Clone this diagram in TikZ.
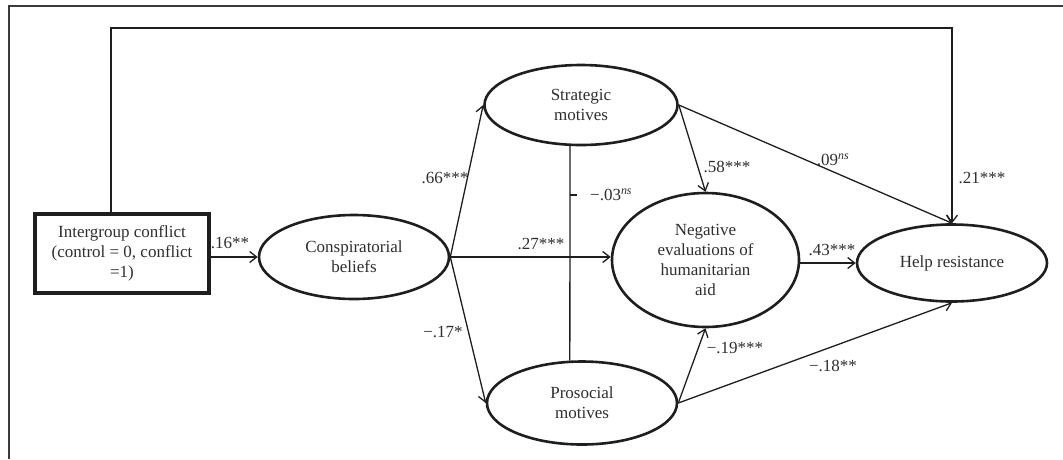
\documentclass[tikz,border=0pt]{standalone}
\usepackage{fontspec}
\setmainfont{Liberation Serif}
\usetikzlibrary{shapes.geometric,arrows.meta}
\definecolor{ink}{HTML}{1E1E1E}
\definecolor{txt}{HTML}{2E2E2E}
\definecolor{frame}{HTML}{3A3A3A}
\tikzset{
  every node/.style={font=\fontsize{17}{20}\selectfont, text=txt},
  oval/.style={ellipse, draw=ink, line width=2.6pt, inner sep=0pt, align=center},
  varbox/.style={rectangle, draw=ink, line width=3.2pt, inner sep=0pt, align=center},
  arr/.style={draw=ink, line width=1.3pt, -{Straight Barb[length=7pt,width=11pt,line width=1.3pt]}},
  plain/.style={draw=ink, line width=1.3pt},
  lab/.style={inner sep=1pt},
  framestyle/.style={draw=frame, line width=1.8pt}
}
\newcommand{\nsup}{\textsuperscript{\itshape ns}}
\begin{document}
\begin{tikzpicture}[x=1pt,y=-1pt]
\useasboundingbox (0,0) rectangle (1063,459);
% frame
\coordinate (fr0) at (9,459);
\coordinate (fr1) at (9,6);
\coordinate (fr2) at (1063,6);
\draw[framestyle] (fr0) -- (fr1) -- (fr2);

% nodes
\node[varbox, minimum width=174pt, minimum height=79pt] (box) at (122,253.5) {Intergroup conflict\\(control = 0, conflict\\=1)};
\node[oval, minimum width=190pt, minimum height=84pt] (consp) at (354,257) {Conspiratorial\\beliefs};
\node[oval, minimum width=193pt, minimum height=80pt] (strat) at (581,105) {Strategic\\motives};
\node[oval, minimum width=190pt, minimum height=83pt] (pros) at (582,403) {Prosocial\\motives};
\node[oval, minimum width=187pt, minimum height=134pt] (neg) at (705.5,260) {Negative\\evaluations of\\humanitarian\\aid};
\node[oval, minimum width=190pt, minimum height=77pt] (help) at (952,263) {Help resistance};

% connectors
\coordinate (tl) at (111,28);
\draw[arr] (box.north -| tl) -- (tl) -| (help.north);
\draw[arr] (box.east |- consp.west) -- (consp.west);
\draw[arr] (consp.east) -- (strat.west);
\draw[arr] (consp.east) -- (pros.west);
\draw[arr] (consp.east) -- (consp.east -| neg.west);
\draw[arr] (strat.east) -- (neg.north);
\draw[arr] (strat.east) -- (help.north);
\draw[arr] (pros.east) -- (neg.south);
\draw[arr] (pros.east) -- (help.south);
\draw[arr] (neg.east |- help.west) -- (help.west);
\draw[plain] (strat.{-105.4}) -- (pros.{106.3});
\coordinate (tick) at (570,195);
\draw[plain] (tick) -- ++(7,0);

% labels
\node[lab] (l16) at (230,243) {.16**};
\node[lab] (l66) at (445,178) {.66***};
\node[lab] (l17) at (443,332) {−.17*};
\node[lab] (l27) at (541,244) {.27***};
\node[lab, anchor=west] (l03) at (589,195) {−.03\nsup};
\node[lab] (l58) at (727,167) {.58***};
\node[lab] (l09) at (833,160) {.09\nsup};
\node[lab] (l21) at (982,178) {.21***};
\node[lab] (l43) at (832,250) {.43***};
\node[lab] (l19) at (735,348) {−.19***};
\node[lab] (l18) at (833,366) {−.18**};
\end{tikzpicture}
\end{document}
